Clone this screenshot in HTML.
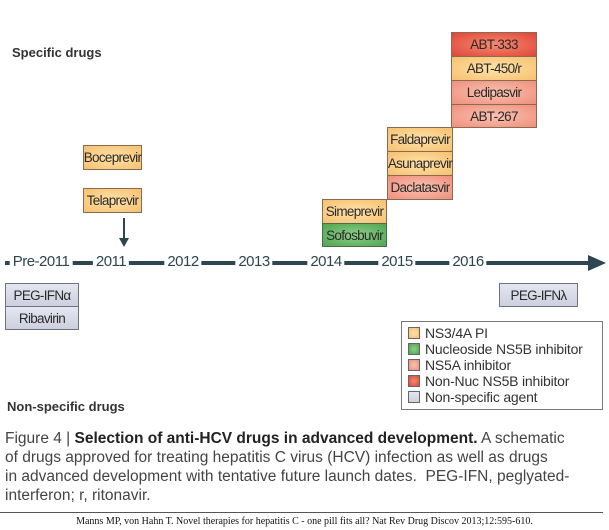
<!DOCTYPE html>
<html><head><meta charset="utf-8"><style>
body{margin:0;width:609px;height:530px;background:#fff;position:relative;overflow:hidden;font-family:"Liberation Sans",sans-serif;}
.b{position:absolute;box-sizing:border-box;border:1px solid #8a6a50;font-size:13.5px;letter-spacing:-0.7px;color:#2a2a2a;text-align:center;display:flex;align-items:center;justify-content:center;}
.pi{background:radial-gradient(ellipse at center,#ffe2a8,#f7c070);}
.nuc{background:radial-gradient(ellipse at center,#8fcf88,#4fa552);border-color:#4d6b4d;}
.ns5a{background:radial-gradient(ellipse at center,#f9c2b0,#ef8f7c);}
.nn{background:radial-gradient(ellipse at center,#f58a70,#e0453a);}
.ns{background:linear-gradient(#e4e6f0,#cdd0e0);border-color:#707080;}
.t{position:absolute;white-space:nowrap;}
.yl{position:absolute;top:253px;font-size:15px;letter-spacing:-0.5px;color:#2e4650;background:#fff;padding:0 3px;transform:translateX(-50%);}
.lg{display:flex;align-items:center;height:16px;font-size:14px;letter-spacing:-0.2px;color:#333;}
.sw{width:10px;height:10px;border:1px solid #666;margin-right:5px;}
</style></head><body>
<div class="t" style="left:12px;top:45px;font-size:13px;font-weight:bold;color:#333">Specific drugs</div>
<div class="t" style="left:7px;top:399px;font-size:13px;font-weight:bold;color:#333">Non-specific drugs</div>

<div class="b nn" style="left:451px;top:32px;width:86px;height:25px">ABT-333</div>
<div class="b pi" style="left:451px;top:56px;width:86px;height:25px">ABT-450/r</div>
<div class="b ns5a" style="left:451px;top:80px;width:86px;height:25px">Ledipasvir</div>
<div class="b ns5a" style="left:451px;top:104px;width:86px;height:24px">ABT-267</div>
<div class="b pi" style="left:387px;top:127px;width:66px;height:25px">Faldaprevir</div>
<div class="b pi" style="left:387px;top:151px;width:66px;height:25px">Asunaprevir</div>
<div class="b ns5a" style="left:387px;top:175px;width:66px;height:25px">Daclatasvir</div>
<div class="b pi" style="left:322px;top:199px;width:65px;height:25px">Simeprevir</div>
<div class="b nuc" style="left:322px;top:223px;width:65px;height:24px">Sofosbuvir</div>
<div class="b pi" style="left:83px;top:145px;width:59px;height:25px">Boceprevir</div>
<div class="b pi" style="left:83px;top:188px;width:59px;height:25px">Telaprevir</div>

<svg style="position:absolute;left:0;top:0" width="609" height="300">
<line x1="124" y1="218" x2="124" y2="240" stroke="#2e4650" stroke-width="2"/>
<polygon points="119,238 129,238 124,247" fill="#2e4650"/>
<line x1="5" y1="263" x2="592" y2="263" stroke="#2e4650" stroke-width="4"/>
<polygon points="588,255 606,263 588,271" fill="#2e4650"/>
</svg>
<div class="yl" style="left:41px">Pre-2011</div>
<div class="yl" style="left:111px">2011</div>
<div class="yl" style="left:183px">2012</div>
<div class="yl" style="left:254px">2013</div>
<div class="yl" style="left:326px">2014</div>
<div class="yl" style="left:397px">2015</div>
<div class="yl" style="left:468px">2016</div>

<div class="b ns" style="left:5px;top:283px;width:74px;height:24px">PEG-IFNα</div>
<div class="b ns" style="left:5px;top:306px;width:74px;height:24px">Ribavirin</div>
<div class="b ns" style="left:499px;top:283px;width:79px;height:24px">PEG-IFNλ</div>

<div style="position:absolute;left:401px;top:321px;width:202px;height:89px;box-sizing:border-box;border:1px solid #777;padding:3px 0 0 6px">
<div class="lg"><span class="sw pi"></span>NS3/4A PI</div>
<div class="lg"><span class="sw nuc"></span>Nucleoside NS5B inhibitor</div>
<div class="lg"><span class="sw ns5a"></span>NS5A inhibitor</div>
<div class="lg"><span class="sw nn"></span>Non-Nuc NS5B inhibitor</div>
<div class="lg"><span class="sw ns"></span>Non-specific agent</div>
</div>

<div style="position:absolute;left:5px;top:429px;width:604px;font-size:15.5px;line-height:19px;color:#444;white-space:nowrap">Figure 4 | <b style="color:#222">Selection of anti-HCV drugs in advanced development.</b> A schematic<br>of drugs approved for treating hepatitis C virus (HCV) infection as well as drugs<br>in advanced development with tentative future launch dates.&nbsp; PEG-IFN, peglyated-<br>interferon; r, ritonavir.</div>
<div style="position:absolute;left:0;top:512px;width:603px;height:1px;background:#555"></div>
<div class="t" style="left:0;width:609px;text-align:center;top:516px;font-family:'Liberation Serif',serif;font-size:10px;color:#111">Manns MP, von Hahn T. Novel therapies for hepatitis C - one pill fits all? Nat Rev Drug Discov 2013;12:595-610.</div>
</body></html>
